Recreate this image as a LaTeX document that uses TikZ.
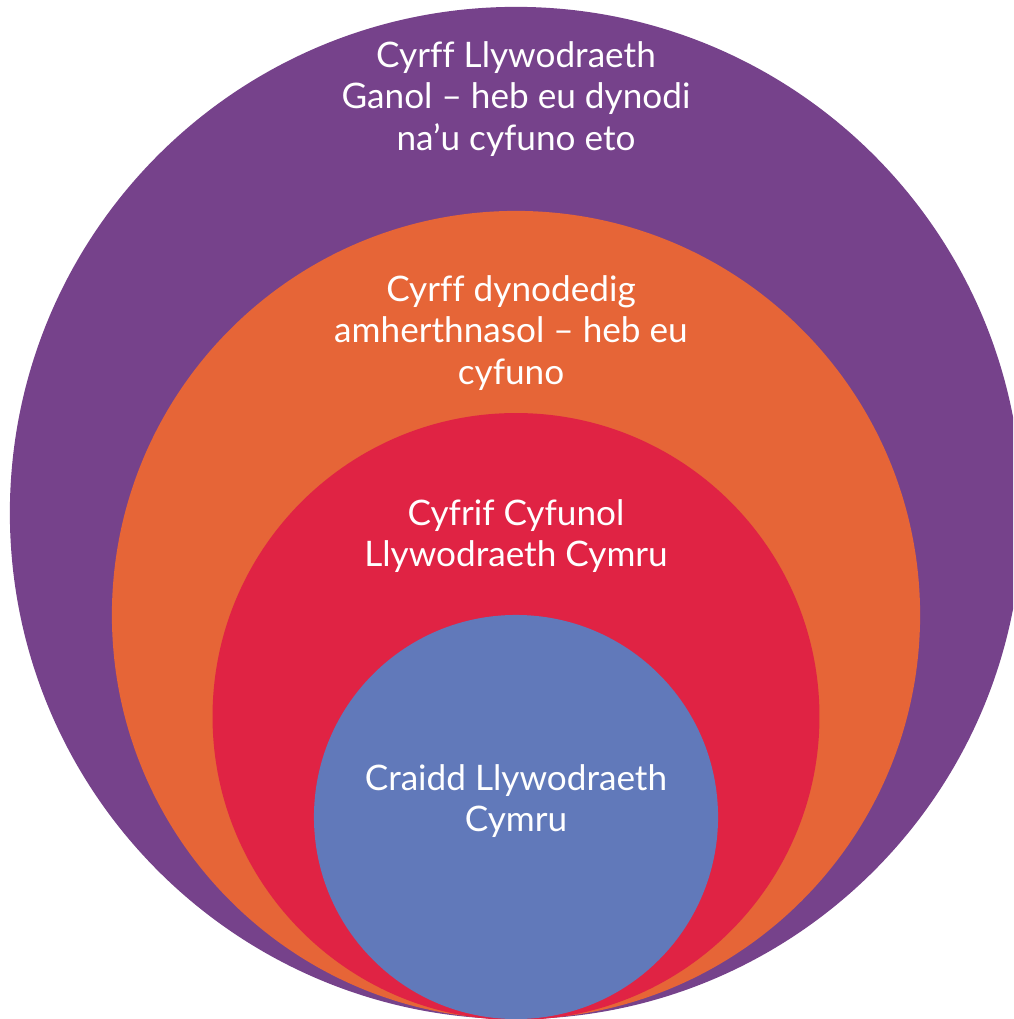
\documentclass[tikz,border=0pt]{standalone}
\usepackage{fontspec}
\setmainfont{Lato}[Ligatures=NoCommon]
\usetikzlibrary{positioning}

\definecolor{ringPurple}{RGB}{118,66,139}
\definecolor{ringOrange}{RGB}{230,101,55}
\definecolor{ringRed}{RGB}{224,35,68}
\definecolor{ringBlue}{RGB}{97,121,186}

\tikzset{
  ring/.style={circle,inner sep=0pt,draw=none},
  ringtext/.style={text=white,align=center,inner sep=0pt,
                   font=\fontsize{25}{29.5}\selectfont}
}

\begin{document}
\begin{tikzpicture}[x=0.025cm,y=-0.025cm]

\useasboundingbox (0,0) rectangle (1013,1019);
\clip (0,0) rectangle (1013,1019);

% nested circles, all touching at the bottom
\node[ring,minimum size=25.3cm,fill=ringPurple] (outer) at (516,513) {};
\node[ring,minimum size=20.2cm,fill=ringOrange] (body) at (516,615) {};
\node[ring,minimum size=15.17cm,fill=ringRed] (account) at (516,716.5) {};
\node[ring,minimum size=10.1cm,fill=ringBlue] (core) at (516,817) {};

% labels
\node[ringtext] (outerlabel) at (516,99)
      {Cyrff Llywodraeth\\Ganol – heb eu dynodi\\na’u cyfuno eto};
\node[ringtext] (bodylabel) at (511,333)
      {Cyrff dynodedig\\amherthnasol – heb eu\\cyfuno};
\node[ringtext] (accountlabel) at (516,536)
      {Cyfrif Cyfunol\\Llywodraeth Cymru};
\node[ringtext] (corelabel) at (516,801)
      {Craidd Llywodraeth\\Cymru};

\end{tikzpicture}
\end{document}
